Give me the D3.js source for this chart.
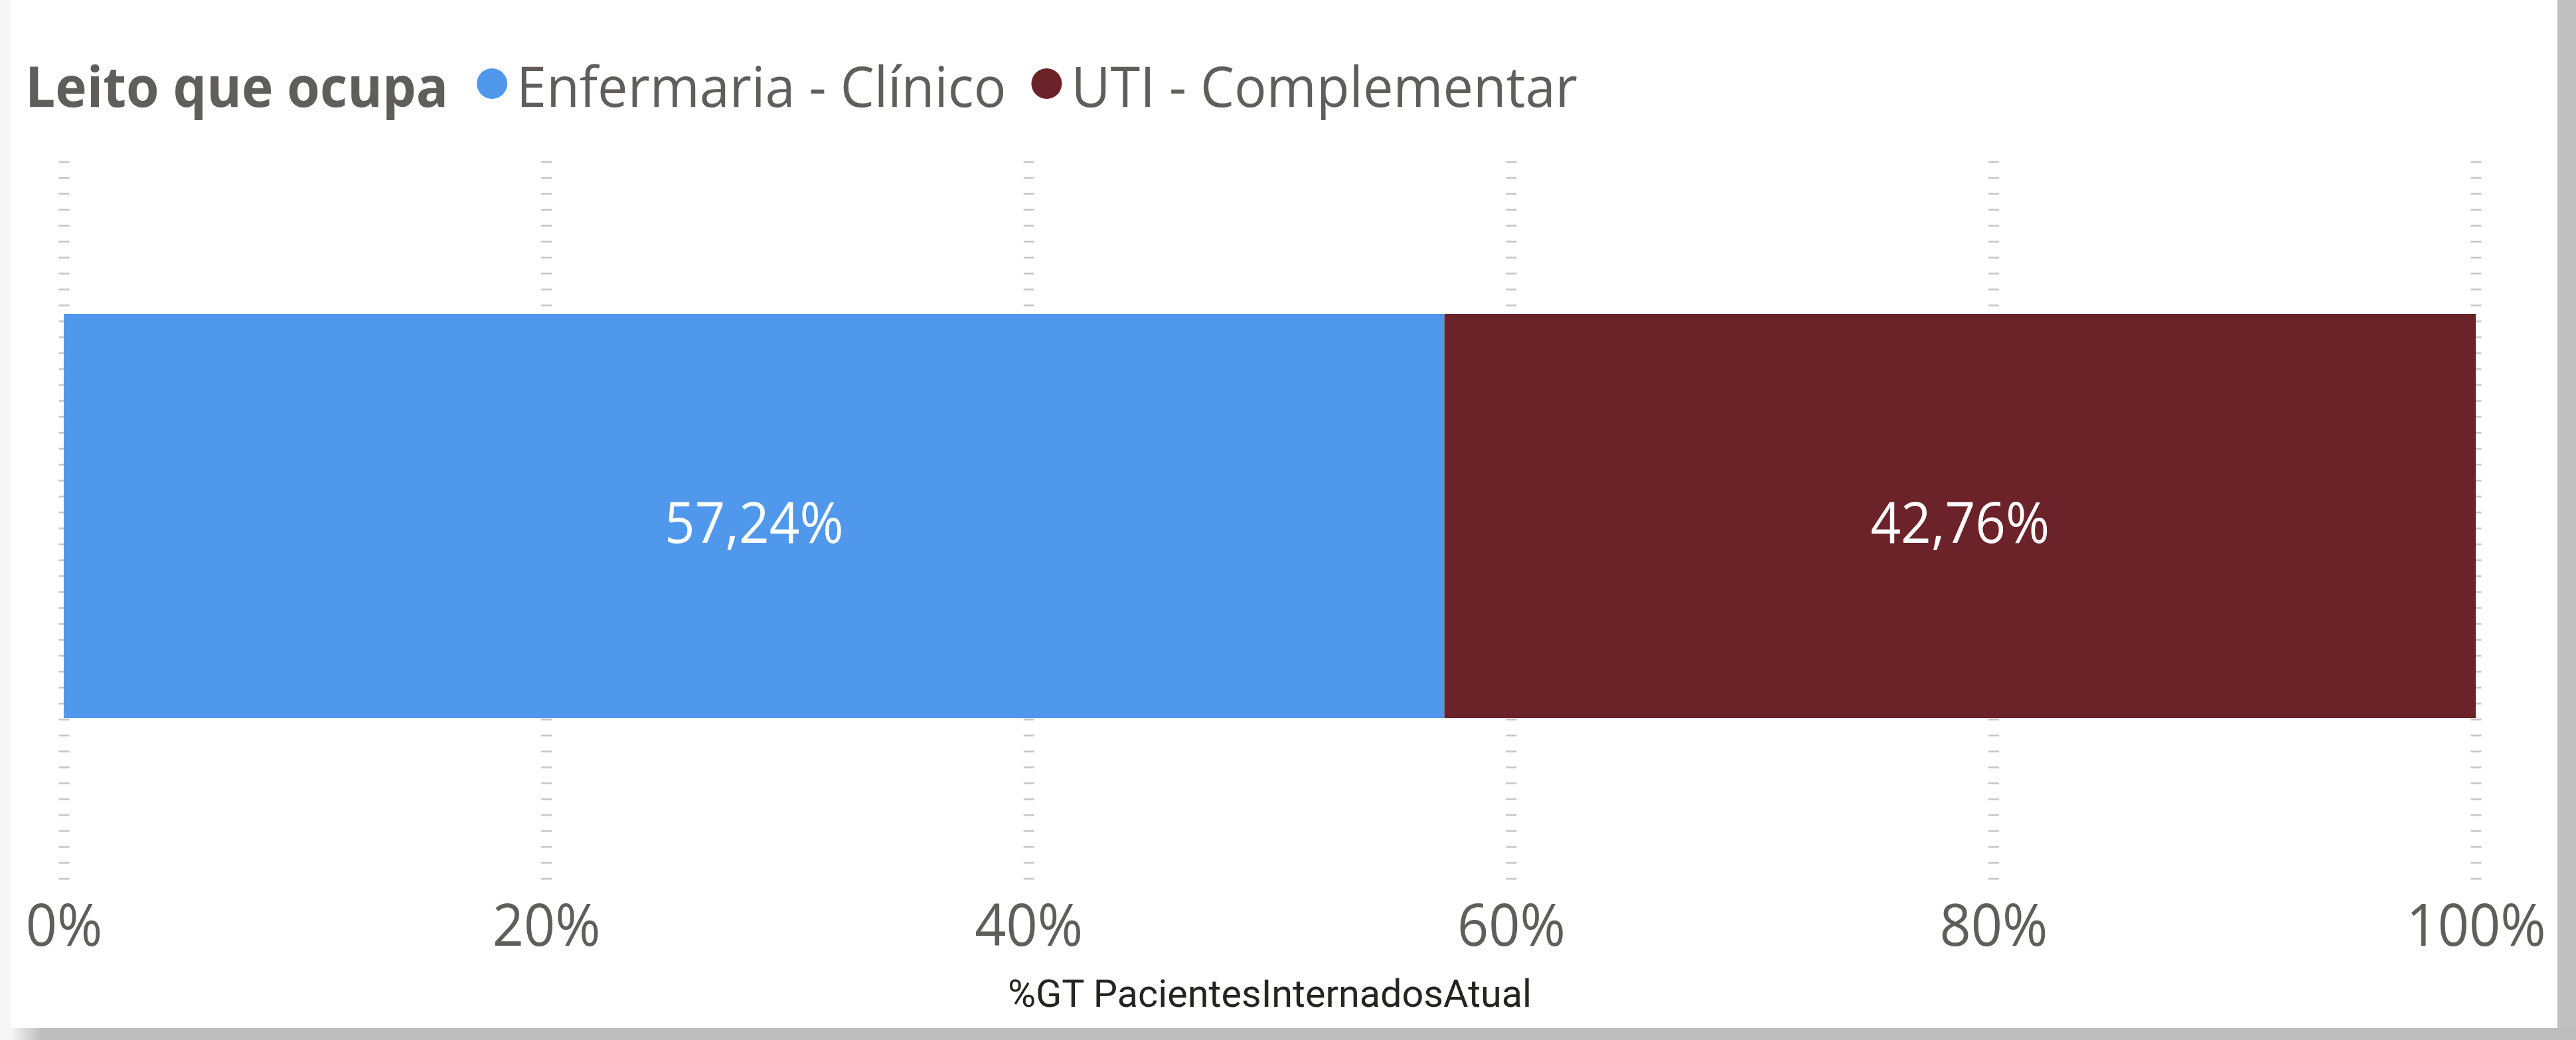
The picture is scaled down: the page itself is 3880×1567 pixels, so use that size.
<!DOCTYPE html>
<html>
<head>
<meta charset="utf-8">
<script src="https://cdn.jsdelivr.net/npm/d3@7/dist/d3.min.js"></script>
<style>
  body { margin: 0; background: #fff; overflow: hidden; }
  svg { display: block; }
</style>
</head>
<body>
<svg id="grafico"></svg>
<script>
// dados do gráfico
var categorias = ["Enfermaria - Clínico", "UTI - Complementar"];
var valores = [57.24, 42.76];
var cores = ["#4F98EB", "#6B2228"];
var ticksX = [0, 20, 40, 60, 80, 100];
var tituloLegenda = "Leito que ocupa";
var tituloEixo = "%GT PacientesInternadosAtual";
var rotuloBarra = "Total";

var w = 3880, h = 1567;
var fonte = "'Segoe UI', 'Open Sans', 'Noto Sans', sans-serif";
var cinzaTexto = "#605E5C";

// comprime o texto horizontalmente (Open Sans e' mais larga que Segoe UI)
function ajusta(sel, fator) {
  sel.each(function() {
    var largura = this.getComputedTextLength();
    d3.select(this)
      .attr("textLength", largura * fator)
      .attr("lengthAdjust", "spacingAndGlyphs");
  });
}

var svg = d3.select("#grafico").attr("width", w).attr("height", h);

// moldura do visual (faixa clara à esquerda, sombra à direita e embaixo)
var defs = svg.append("defs");
var grad = defs.append("linearGradient").attr("id", "sombraBaixo")
  .attr("x1", "0").attr("x2", "1").attr("y1", "0").attr("y2", "0");
grad.append("stop").attr("offset", "0").attr("stop-color", "#f6f6f6");
grad.append("stop").attr("offset", "0.012").attr("stop-color", "#bdbdbd");
grad.append("stop").attr("offset", "1").attr("stop-color", "#bdbdbd");

svg.append("rect").attr("x", 0).attr("y", 0).attr("width", w).attr("height", h).attr("fill", "#f6f6f6");
svg.append("rect").attr("x", 3852).attr("y", 0).attr("width", 28).attr("height", h).attr("fill", "#c0c0c0");
svg.append("rect").attr("x", 16).attr("y", 1549).attr("width", w - 16).attr("height", 18).attr("fill", "url(#sombraBaixo)");
svg.append("rect").attr("x", 16).attr("y", 0).attr("width", 3836).attr("height", 1549).attr("fill", "#fff");

// escalas
var x = d3.scaleLinear().domain([0, 100]).range([96, 3729]);
var y = d3.scaleBand().domain([rotuloBarra]).range([229, 1326]).paddingInner(0.286).paddingOuter(0.286);

// empilhamento
var linha = {};
categorias.forEach(function(c, i) { linha[c] = valores[i]; });
var pilha = d3.stack().keys(categorias)([linha]);

// linhas de grade tracejadas
var grade = svg.append("g")
  .attr("transform", "translate(0,1325.4)")
  .call(d3.axisBottom(x).tickValues(ticksX).tickSize(-1083).tickFormat(""));
grade.select(".domain").remove();
grade.selectAll("line")
  .attr("stroke", "#c8c8c8")
  .attr("stroke-width", 16)
  .attr("stroke-dasharray", "2.7 21.3");

// barras
var series = svg.append("g").selectAll("g")
  .data(pilha)
  .enter().append("g")
  .attr("fill", function(d, i) { return cores[i]; });

series.selectAll("rect")
  .data(function(d) { return d; })
  .enter().append("rect")
  .attr("x", function(d) { return x(d[0]); })
  .attr("y", y(rotuloBarra))
  .attr("width", function(d) { return x(d[1]) - x(d[0]); })
  .attr("height", y.bandwidth());

// rótulos de dados
var rotulos = svg.append("g").selectAll("text")
  .data(pilha)
  .enter().append("text")
  .attr("x", function(d) { return (x(d[0][0]) + x(d[0][1])) / 2; })
  .attr("y", y(rotuloBarra) + y.bandwidth() / 2)
  .attr("dy", "0.47em")
  .attr("text-anchor", "middle")
  .style("font-family", fonte)
  .style("font-size", "86px")
  .style("fill", "#fff")
  .text(function(d, i) { return d3.format(".2f")(valores[i]).replace(".", ",") + "%"; });
ajusta(rotulos, 0.93);

// eixo x
var eixo = svg.append("g")
  .attr("transform", "translate(0,1425)")
  .call(d3.axisBottom(x).tickValues(ticksX).tickSize(0).tickFormat(function(d) { return d + "%"; }));
eixo.select(".domain").remove();
eixo.selectAll("text")
  .attr("y", 0).attr("dy", 0)
  .style("font-family", fonte)
  .style("font-size", "87px")
  .style("fill", cinzaTexto);
ajusta(eixo.selectAll("text"), 0.95);

// título do eixo
var tEixo = svg.append("text")
  .attr("x", (x.range()[0] + x.range()[1]) / 2)
  .attr("y", 1517)
  .attr("text-anchor", "middle")
  .style("font-family", "Roboto, 'Liberation Sans Narrow', sans-serif")
  .style("font-size", "57px")
  .style("fill", "#252423")
  .text(tituloEixo);
ajusta(tEixo, 1.01);

// legenda
var legenda = svg.append("g").attr("transform", "translate(38,161)");
var tLeg = legenda.append("text")
  .style("font-family", fonte)
  .style("font-size", "84px")
  .style("font-weight", "bold")
  .style("fill", cinzaTexto)
  .text(tituloLegenda);
ajusta(tLeg, 0.955);
var cursor = +tLeg.attr("textLength") + 43;

categorias.forEach(function(c, i) {
  legenda.append("circle")
    .attr("cx", cursor + 23)
    .attr("cy", -35)
    .attr("r", 23)
    .attr("fill", cores[i]);
  var t = legenda.append("text")
    .attr("x", cursor + 60)
    .style("font-family", fonte)
    .style("font-size", "84px")
    .style("fill", cinzaTexto)
    .text(c);
  ajusta(t, 0.965);
  cursor += 60 + (+t.attr("textLength")) + 38;
});
</script>
</body>
</html>
